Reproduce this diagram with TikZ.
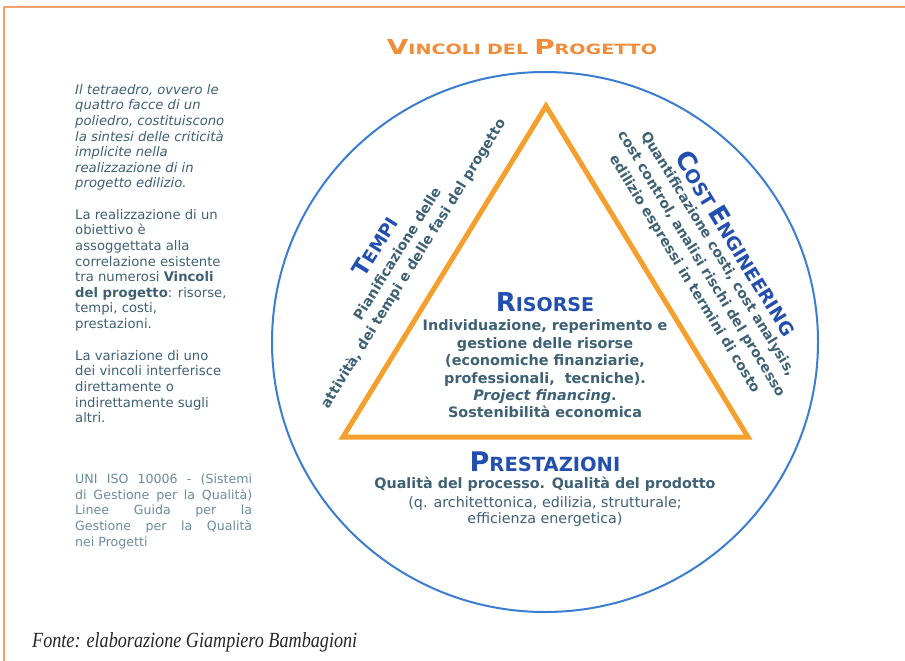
\documentclass[tikz,border=0pt]{standalone}
\usepackage{fontspec}
\setmainfont{DejaVu Sans}
\newfontfamily\footfont{Liberation Serif}
\usetikzlibrary{calc,shapes.geometric}

\definecolor{txt}{HTML}{3E6175}
\definecolor{txtlight}{HTML}{6A8CA0}
\definecolor{head}{HTML}{2350B0}
\definecolor{ring}{HTML}{3B7DD0}
\definecolor{tri}{HTML}{F5A02C}
\definecolor{titleor}{HTML}{F08C3A}
\definecolor{framecol}{HTML}{F2A268}

% fake small capitals: first letter large, the rest smaller
\newcommand{\capword}[4]{{\fontsize{#1}{#1}\selectfont #3}{\fontsize{#2}{#2}\selectfont #4}}

\tikzset{
  sidetext/.style={anchor=north west, inner sep=0pt, align=left, text=txt,
    font=\fontsize{13.2}{15.6}\selectfont},
  heading/.style={inner sep=0pt, text=head, font=\bfseries},
  body/.style={inner sep=0pt, align=center, text=txt,
    font=\bfseries\fontsize{14.4}{17.4}\selectfont},
}

\begin{document}
\begin{tikzpicture}[x=1pt,y=-1pt]
\useasboundingbox (0,0) rectangle (905,661);
\fill[white] (0,0) rectangle (905,661);

% frame on top and left
\coordinate (fa) at (4,661);
\coordinate (fb) at (4,7);
\coordinate (fc) at (905,7);
\draw[framecol, line width=1.6pt] (fa) -- (fb) -- (fc);

% title
\node[inner sep=0pt, text=titleor] (title) at (522,47)
  {\resizebox{270pt}{15pt}{\bfseries\capword{16}{11}{V}{INCOLI} \capword{16}{11}{}{DEL} \capword{16}{11}{P}{ROGETTO}}};

% ring and triangle
\node[draw=ring, line width=2pt, ellipse, minimum width=546pt, minimum height=540pt, inner sep=0pt] (ring) at (545,342) {};
\coordinate (apex) at (546,106);
\coordinate (bl) at (343,437);
\coordinate (br) at (748,437);
\draw[tri, line width=5pt, line join=miter] (apex) -- (bl) -- (br) -- cycle;

% side notes
\node[sidetext] (p1) at (75,84) {\itshape Il tetraedro, ovvero le\\ \itshape quattro facce di un\\ \itshape poliedro, costituiscono\\ \itshape la sintesi delle criticità\\ \itshape implicite nella\\ \itshape realizzazione di in\\ \itshape progetto edilizio.};
\node[sidetext] (p2) at (75,209) {La realizzazione di un\\ obiettivo è\\ assoggettata alla\\ correlazione esistente\\ tra numerosi \textbf{Vincoli}\\ \textbf{del progetto}: risorse,\\ tempi, costi,\\ prestazioni.};
\node[sidetext] (p3) at (75,350) {La variazione di uno\\ dei vincoli interferisce\\ direttamente o\\ indirettamente sugli\\ altri.};
\node[sidetext, text=txtlight, font=\fontsize{12.6}{15.6}\selectfont] (p4) at (75,474) {\makebox[177pt][s]{UNI ISO 10006 - (Sistemi}\\ \makebox[177pt][s]{di Gestione per la Qualità)}\\ \makebox[177pt][s]{Linee Guida per la}\\ \makebox[177pt][s]{Gestione per la Qualità}\\ nei Progetti};

% resources
\node[heading] (ris) at (545,302) {\capword{26}{19}{R}{ISORSE}};
\node[body] (risbody) at (545,369) {Individuazione, reperimento e\\ gestione delle risorse\\ (economiche finanziarie,\\ professionali,\ \ tecniche).\\ \textit{Project financing}.\\ Sostenibilità economica};

% performance
\node[heading] (pre) at (545,462) {\capword{27}{19.5}{P}{RESTAZIONI}};
\node[body, font=\bfseries\fontsize{14.3}{16}\selectfont] (prebody) at (545,502) {Qualità del processo. Qualità del prodotto\\[3pt] \mdseries(q. architettonica, edilizia, strutturale;\\ \mdseries efficienza energetica)};

% time
\node[heading, rotate=58.2] (tempi) at (375,246) {\capword{22.5}{18}{T}{EMPI}};
\node[body, rotate=58.2, font=\bfseries\fontsize{14}{18.5}\selectfont] (tempibody) at (406,259) {Pianificazione delle\\ attività, dei tempi e delle fasi del progetto};

% cost
\node[heading, rotate=-58.6] (cost) at (737,243) {\capword{25.5}{18.5}{C}{OST} \capword{25.5}{18.5}{E}{NGINEERING}};
\node[body, rotate=-58.6, font=\bfseries\fontsize{14}{19.5}\selectfont] (costbody) at (701,264) {Quantificazione costi, cost analysis,\\ cost control, analisi rischi del processo\\ edilizio espressi in termini di costo};

% source
\node[anchor=base west, inner sep=0pt, text=black!85] (src) at (32,647) {\resizebox{325pt}{15pt}{\footfont\itshape Fonte: elaborazione Giampiero Bambagioni}};
\end{tikzpicture}
\end{document}
